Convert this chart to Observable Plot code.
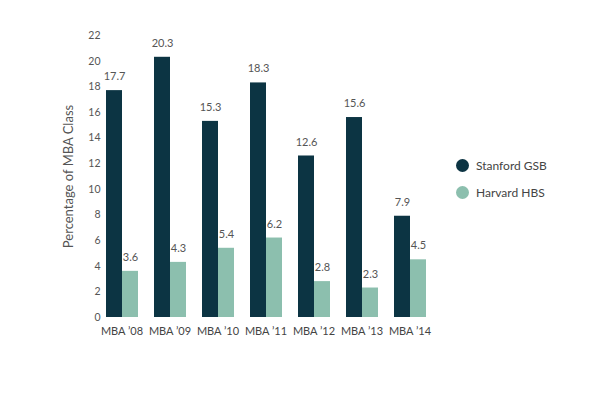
<!DOCTYPE html>
<html>
<head>
<meta charset="utf-8">
<script src="https://cdn.jsdelivr.net/npm/d3@7"></script>
<script src="https://cdn.jsdelivr.net/npm/@observablehq/plot@0.6"></script>
<style>
  body { margin: 0; background: #fff; }
  #wrap { position: relative; width: 600px; height: 399px; font-family: Lato, "Open Sans", sans-serif; }
  #legend { position: absolute; left: 456px; top: 152px; font-size: 12px; color: #444; }
  .item { display: flex; align-items: center; height: 27px; }
  .sw { width: 13px; height: 13px; border-radius: 50%; margin-right: 7px; }
</style>
</head>
<body>
<div id="wrap"><div id="legend"></div></div>
<script>
const categories = ["MBA ’08", "MBA ’09", "MBA ’10", "MBA ’11", "MBA ’12", "MBA ’13", "MBA ’14"];
const series = ["Stanford GSB", "Harvard HBS"];
const stanford = [17.7, 20.3, 15.3, 18.3, 12.6, 15.6, 7.9];
const harvard = [3.6, 4.3, 5.4, 6.2, 2.8, 2.3, 4.5];
const colors = ["#0c3443", "#8cbfae"];
const yTicks = [0, 2, 4, 6, 8, 10, 12, 14, 16, 18, 20, 22];
const yLabel = "Percentage of MBA Class";

const data = [];
categories.forEach((c, i) => {
  data.push({cat: c, series: series[0], value: stanford[i]});
  data.push({cat: c, series: series[1], value: harvard[i]});
});

const chart = Plot.plot({
  width: 600,
  height: 399,
  marginLeft: 99,
  marginRight: 169,
  marginTop: 35,
  marginBottom: 82,
  style: {fontFamily: "Lato, 'Open Sans', sans-serif", fontSize: "11px", color: "#555", background: "transparent"},
  fx: {domain: categories, paddingInner: 0.315, paddingOuter: 0.1, label: null, axis: null},
  x: {domain: series, axis: null, padding: 0},
  y: {domain: [0, 22], axis: null},
  color: {domain: series, range: colors},
  marks: [
    Plot.axisFx({anchor: "bottom", tickSize: 0, tickPadding: 10, label: null, fontSize: 11, fill: "#444"}),
    Plot.axisY({ticks: yTicks, tickSize: 0, tickPadding: 5, label: null, fontSize: 10.5, fill: "#555"}),
    Plot.axisY({ticks: [], label: yLabel, labelAnchor: "center", labelOffset: 42, labelArrow: "none", fontSize: 13, fill: "#555"}),
    Plot.barY(data, {fx: "cat", x: "series", y: "value", fill: "series"}),
    Plot.text(data, {fx: "cat", x: "series", y: "value", text: d => d.value.toFixed(1), dy: -14, fill: "#555", fontSize: 11})
  ]
});
document.getElementById("wrap").prepend(chart);

const legend = document.getElementById("legend");
series.forEach((s, i) => {
  const it = document.createElement("div");
  it.className = "item";
  const sw = document.createElement("span");
  sw.className = "sw";
  sw.style.background = colors[i];
  const t = document.createElement("span");
  t.textContent = s;
  it.append(sw, t);
  legend.append(it);
});
</script>
</body>
</html>
